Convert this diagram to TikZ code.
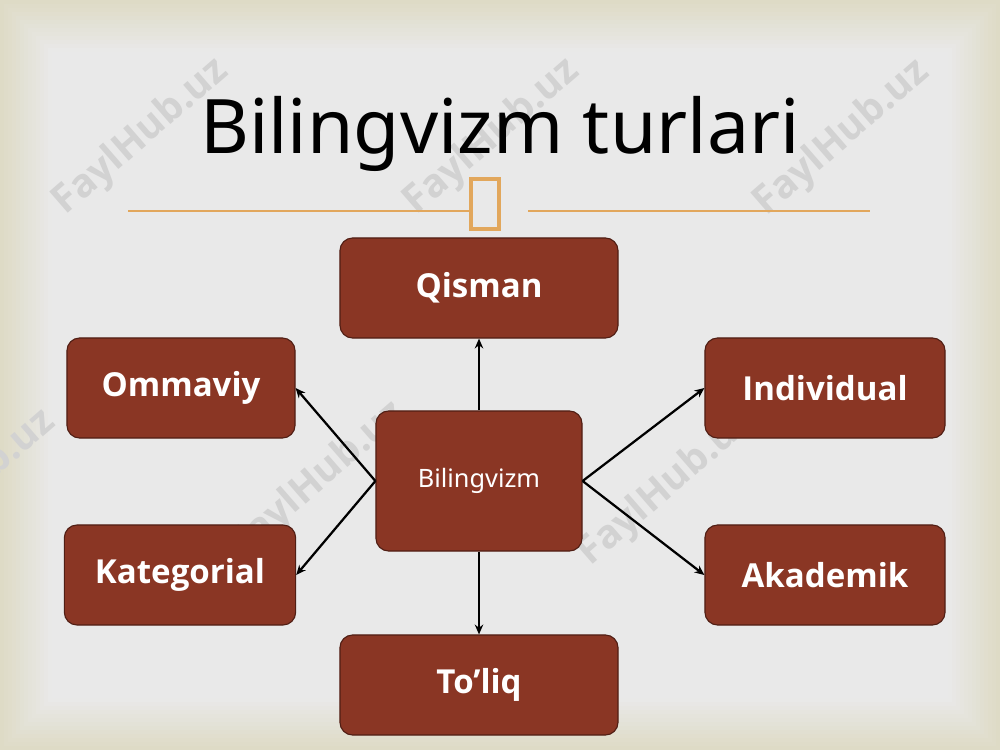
\documentclass[tikz,border=0pt]{standalone}
\usepackage{fontspec}
\setmainfont{Noto Sans}
\newfontfamily\labelsans{Open Sans}
\usepackage{tikz}
\definecolor{boxfill}{RGB}{138, 54, 36}
\definecolor{boxedge}{RGB}{80, 30, 20}
\definecolor{slidebg}{RGB}{233, 233, 233}
\definecolor{slideedge}{RGB}{222, 219, 198}
\definecolor{ornament}{RGB}{226, 167, 92}
\definecolor{wmgray}{RGB}{210, 210, 210}
\usetikzlibrary{arrows.meta, positioning}

\begin{document}
\begin{tikzpicture}[x=0.025cm, y=-0.025cm,
    turbox/.style={draw=boxedge, line width=0.8pt, rounded corners=9pt, fill=boxfill,
                   text=white, font=\fontsize{23.5}{28}\labelsans\bfseries,
                   minimum width=#1, minimum height=2.5cm, inner sep=0pt},
    link/.style={line width=1.6pt, -{Stealth[length=7pt, width=6pt]}},
    wmark/.style={text=wmgray, font=\fontsize{28}{32}\labelsans\bfseries, rotate=41}
]
    \useasboundingbox (0,0) rectangle (1000,750);

    % slide background, beige rim fading into gray
    \foreach \i [evaluate=\i as \mix using int(100-8*\i)] in {0,...,12}
        \fill[slideedge!\mix!slidebg] (\i*4,\i*4) rectangle (1000-\i*4,750-\i*4);
    \fill[slidebg] (52,52) rectangle (948,698);

    \foreach \x/\y [count=\k] in {141/137, 492/137, 842/138, -32/488, 318/480, 666/488}
        \node[wmark] (wm\k) at (\x,\y) {FaylHub.uz};

    \node[font=\fontsize{53.5}{60}\selectfont, anchor=base] (title) at (500,153) {Bilingvizm turlari};

    \draw[ornament, line width=1.1pt] (128,211) -- (470,211);
    \draw[ornament, line width=1.1pt] (528,211) -- (870,211);
    \draw[ornament, line width=2.2pt] (471,179) rectangle (499,229);

    \node[turbox=6.95cm] (qisman) at (479,288) {Qisman};
    \node[turbox=5.7cm] (ommaviy) at (181,388) {Ommaviy};
    \node[turbox=6cm] (individual) at (825,388) {Individual};
    \node[turbox=5.15cm, minimum height=3.5cm, font=\fontsize{18}{22}\selectfont] (markaz) at (479,481) {Bilingvizm};
    \node[turbox=5.78cm] (kategorial) at (180,575) {Kategorial};
    \node[turbox=6cm] (akademik) at (825,575) {Akademik};
    \node[turbox=6.95cm] (toliq) at (479,685) {To’liq};

    \draw[link] (markaz.north) -- (qisman.south);
    \draw[link] (markaz.west) -- (ommaviy.east);
    \draw[link] (markaz.west) -- (kategorial.east);
    \draw[link] (markaz.east) -- (individual.west);
    \draw[link] (markaz.east) -- (akademik.west);
    \draw[link] (markaz.south) -- (toliq.north);
\end{tikzpicture}
\end{document}
